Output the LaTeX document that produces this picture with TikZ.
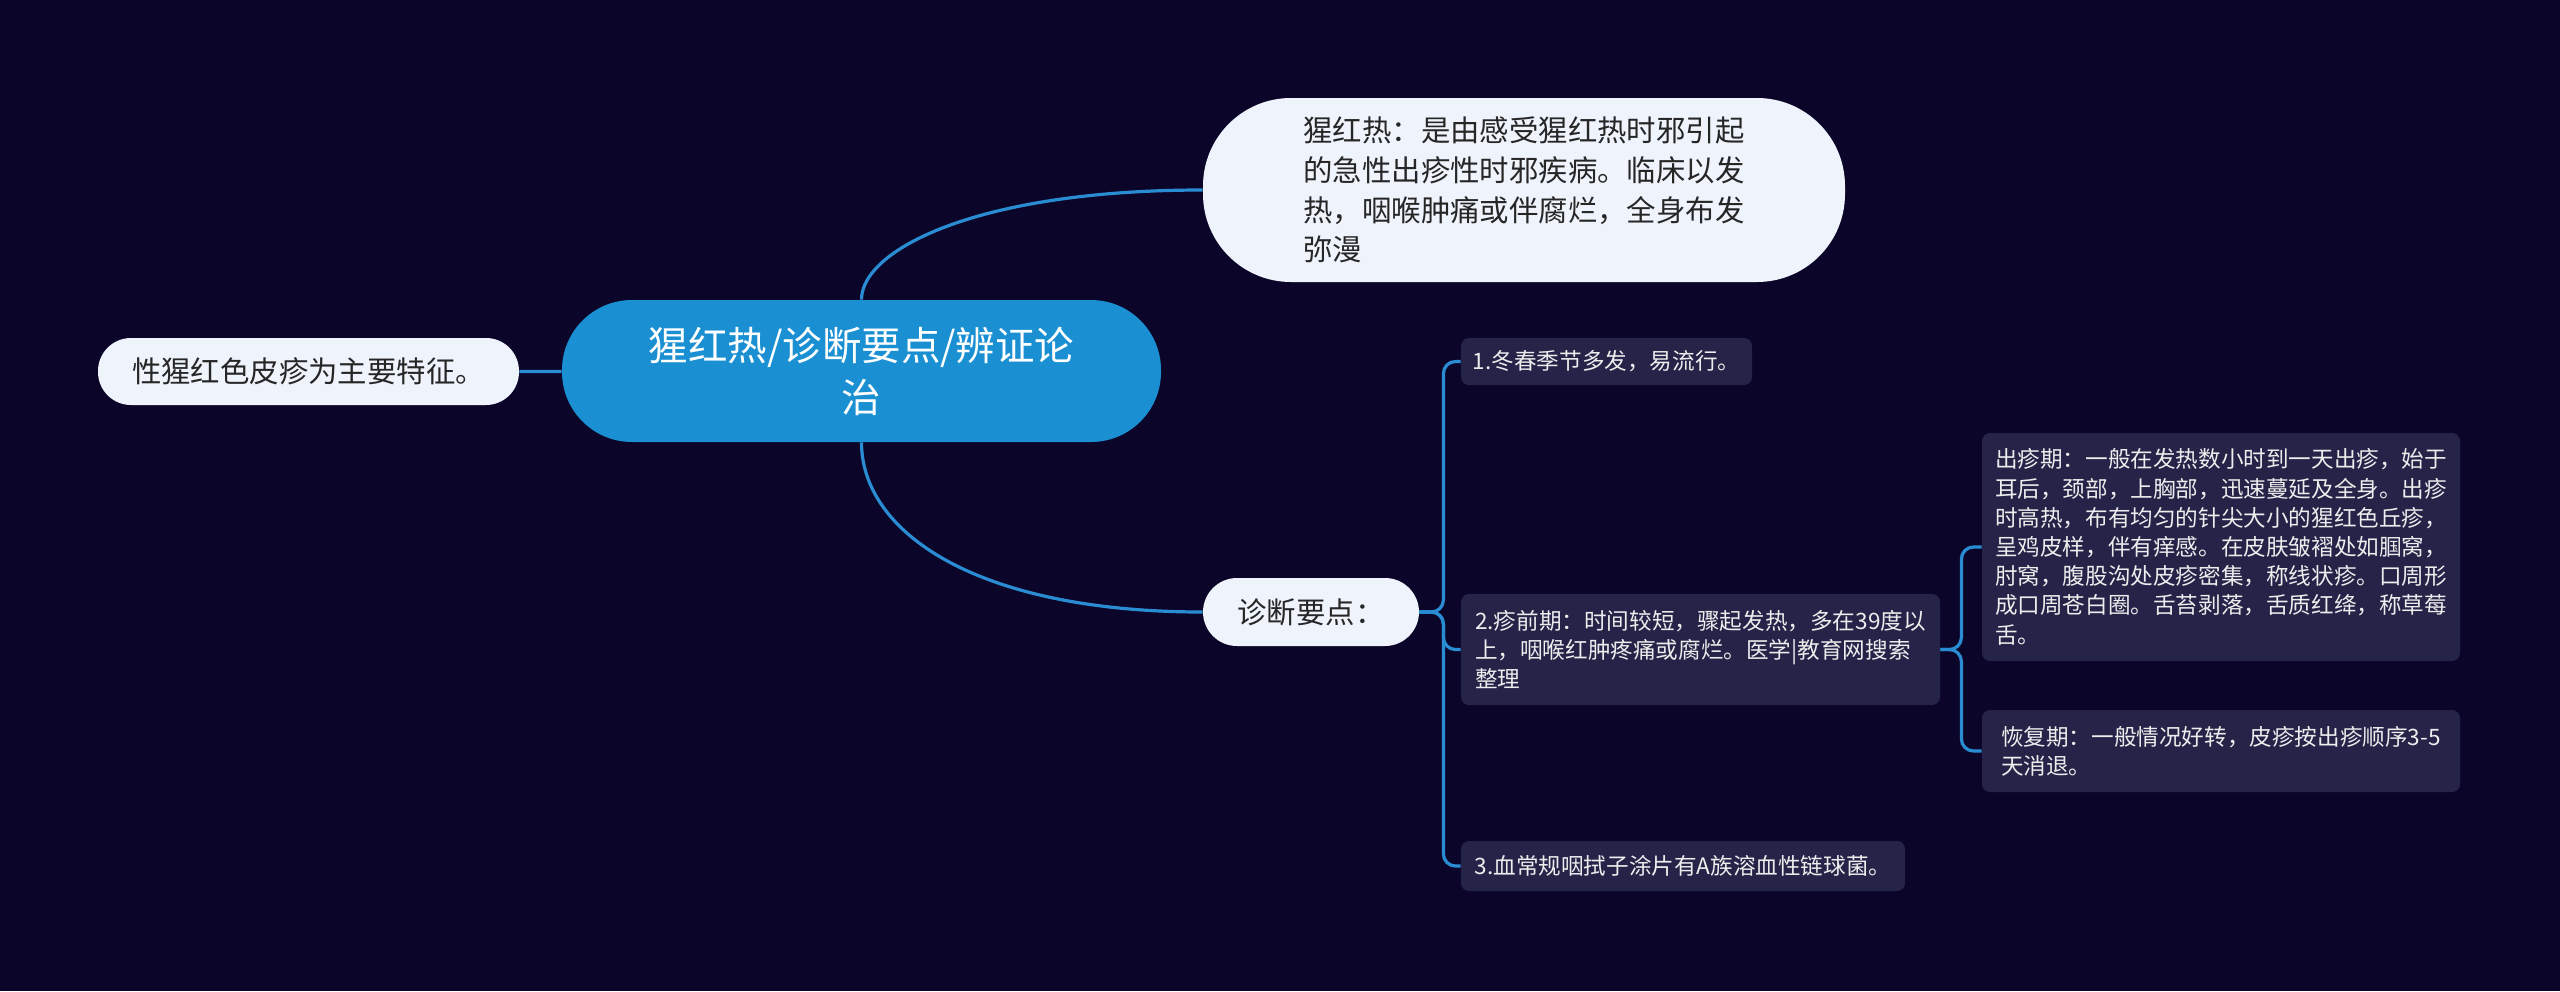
\documentclass[tikz,border=0pt]{standalone}
\usepackage{fontspec}
\newfontfamily\cjk{Noto Sans CJK SC}
\usetikzlibrary{calc}
\definecolor{bgnavy}{HTML}{0B0629}
\definecolor{hubblue}{HTML}{1A90D3}
\definecolor{linkblue}{HTML}{2A8CD2}
\definecolor{pale}{HTML}{EEF3FC}
\definecolor{leafbg}{HTML}{262348}
\definecolor{ink}{HTML}{262626}
\pgfdeclarelayer{back}\pgfdeclarelayer{wires}\pgfsetlayers{back,wires,main}

\begin{document}
\begin{tikzpicture}[x=0.5pt,y=-0.5pt,
  hub/.style={fill=hubblue,text=white,rounded corners=35pt,align=center,minimum width=299.5pt,minimum height=71pt,font=\cjk\fontsize{19.75pt}{26pt}\selectfont},
  topic/.style={fill=pale,text=ink,align=left,font=\cjk\fontsize{14.7pt}{19.85pt}\selectfont},
  leaf/.style={fill=leafbg,text=white!93!black,rounded corners=4pt,align=left,inner xsep=3pt,font=\cjk\fontsize{11.3pt}{14.6pt}\selectfont},
  link/.style={draw=linkblue,line width=1.6pt}]
				\begin{pgfonlayer}{back}\fill[bgnavy] (0,0) rectangle (2560,991);\end{pgfonlayer}
				\useasboundingbox (0,0) rectangle (2560,991);
				\node[hub] (c) at (861.5,371) {猩红热/诊断要点/辨证论\\治};
				\node[topic,rounded corners=16.5pt,minimum width=210.5pt,minimum height=33.5pt] (trait) at (308.5,371.5) {性猩红色皮疹为主要特征。};
				\node[topic,rounded corners=44pt,minimum width=321pt,minimum height=92pt] (defn) at (1524,190) {猩红热：是由感受猩红热时邪引起\\的急性出疹性时邪疾病。临床以发\\热，咽喉肿痛或伴腐烂，全身布发\\弥漫};
				\node[topic,rounded corners=17pt,minimum width=108pt,minimum height=34pt] (diag) at (1311,612) {诊断要点：};
				\node[leaf,minimum width=145.5pt,minimum height=23.5pt] (p1) at (1606.5,361.5) {1.冬春季节多发，易流行。};
				\node[leaf,minimum width=239.5pt,minimum height=55.5pt] (p2) at (1700.5,649.5) {2.疹前期：时间较短，骤起发热，多在39度以\\上，咽喉红肿疼痛或腐烂。医学|教育网搜索\\整理};
				\node[leaf,minimum width=222pt,minimum height=25pt] (p3) at (1683,866) {3.血常规咽拭子涂片有A族溶血性链球菌。};
				\node[leaf,minimum width=239pt,minimum height=114pt] (rash) at (2221,547) {出疹期：一般在发热数小时到一天出疹，始于\\耳后，颈部，上胸部，迅速蔓延及全身。出疹\\时高热，布有均匀的针尖大小的猩红色丘疹，\\呈鸡皮样，伴有痒感。在皮肤皱褶处如腘窝，\\肘窝，腹股沟处皮疹密集，称线状疹。口周形\\成口周苍白圈。舌苔剥落，舌质红绛，称草莓\\舌。};
				\node[leaf,minimum width=239pt,minimum height=41pt] (recov) at (2221,751) {恢复期：一般情况好转，皮疹按出疹顺序3-5\\天消退。};
				\begin{pgfonlayer}{wires}
				\coordinate (k1) at (c|-defn.west);
				\coordinate (k2) at (c|-diag.west);
				\draw[link] (c) -- (trait.east);
				\draw[link] (c) .. controls ($(c)!2/3!(k1)$) and ($(defn.west)!2/3!(k1)$) .. (defn.west);
				\draw[link] (c) .. controls ($(c)!2/3!(k2)$) and ($(diag.west)!2/3!(k2)$) .. (diag.west);
				\foreach \kid in {p1,p2,p3}
					\draw[link,rounded corners=6pt] (diag.east) -- ++(12pt,0) |- (\kid.west);
				\foreach \kid in {rash,recov}
					\draw[link,rounded corners=6pt] (p2.east) -- ++(10.5pt,0) |- (\kid.west);
				\end{pgfonlayer}
			\end{tikzpicture}
\end{document}
